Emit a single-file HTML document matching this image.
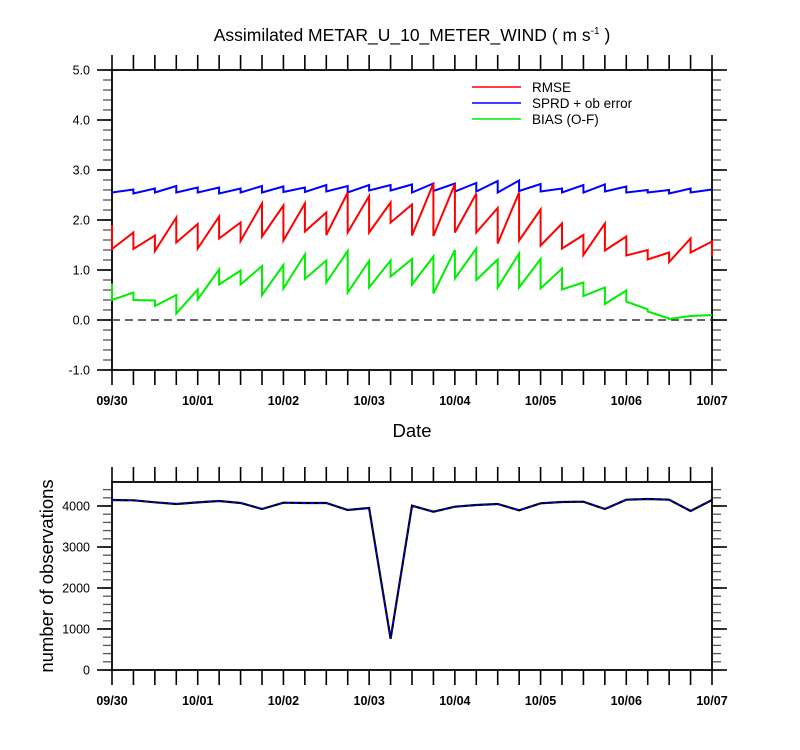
<!DOCTYPE html>
<html><head><meta charset="utf-8"><style>
html,body{margin:0;padding:0;background:#fff;width:800px;height:750px;overflow:hidden}
svg{display:block;font-family:"Liberation Sans",Arial,sans-serif}
</style></head><body>
<svg id="chart" width="800" height="750" viewBox="0 0 800 750" xmlns="http://www.w3.org/2000/svg">
<text x="412" y="41" font-size="17.5" text-anchor="middle">Assimilated METAR_U_10_METER_WIND ( m s<tspan font-size="10" dy="-7">-1</tspan><tspan dy="7"> )</tspan></text>
<g id="topPanel"></g>
<g id="botPanel"></g>
<text x="412" y="437" font-size="18.5" text-anchor="middle">Date</text>
<text transform="translate(53,576) rotate(-90)" font-size="18.5" text-anchor="middle">number of observations</text>
</svg>
<script>
const dateLabels = ["09/30","10/01","10/02","10/03","10/04","10/05","10/06","10/07"];
const topYTicks = [-1,0,1,2,3,4,5];
const botYTicks = [0,1000,2000,3000,4000];
const rmsePrior = [1.9,1.75,1.69,2.05,1.92,2.07,1.95,2.33,2.29,2.33,2.15,2.55,2.48,2.35,2.31,2.73,2.72,2.53,2.24,2.55,2.21,1.93,1.70,1.93,1.67,1.40,1.35,1.63,1.57];
const rmsePost  = [1.42,1.42,1.38,1.55,1.43,1.63,1.58,1.67,1.59,1.77,1.70,1.75,1.75,1.95,1.69,1.68,1.75,1.75,1.53,1.59,1.49,1.43,1.30,1.39,1.29,1.21,1.16,1.35,1.27];
const sprdPrior = [2.57,2.61,2.63,2.68,2.65,2.65,2.63,2.68,2.67,2.65,2.70,2.68,2.70,2.70,2.71,2.73,2.73,2.74,2.78,2.79,2.72,2.63,2.70,2.71,2.67,2.60,2.60,2.63,2.61];
const sprdPost  = [2.55,2.53,2.55,2.55,2.55,2.53,2.55,2.55,2.56,2.56,2.57,2.55,2.59,2.59,2.55,2.58,2.57,2.57,2.55,2.58,2.57,2.55,2.55,2.57,2.55,2.55,2.53,2.55,2.61];
const biasPrior = [0.73,0.55,0.39,0.50,0.61,1.01,0.99,1.08,1.10,1.31,1.19,1.38,1.18,1.19,1.22,1.27,1.40,1.43,1.21,1.33,1.22,1.03,0.75,0.65,0.59,0.21,0.03,0.08,0.10];
const biasPost  = [0.40,0.40,0.28,0.13,0.41,0.71,0.71,0.50,0.63,0.82,0.75,0.55,0.65,0.87,0.71,0.53,0.83,0.80,0.65,0.65,0.63,0.61,0.48,0.32,0.37,0.17,0.02,0.08,0.10];
const obsCount  = [4146,4138,4090,4049,4089,4122,4073,3927,4081,4073,4073,3902,3951,760,4008,3862,3984,4024,4049,3894,4065,4098,4106,3927,4154,4171,4154,3878,4146];
const legendNames = ["RMSE","SPRD + ob error","BIAS (O-F)"];

(function(){
const NS="http://www.w3.org/2000/svg";
function mk(parent,tag,attrs,text){const e=document.createElementNS(NS,tag);for(const k in attrs)e.setAttribute(k,attrs[k]);if(text!==undefined)e.textContent=text;parent.appendChild(e);return e;}
const X0=112,X1=712,NT=28;
const xT=i=>X0+(X1-X0)*i/NT;
const yTop=v=>320-50*v;
const yBot=v=>670-0.041*v;

function frame(g,yTopPx,yBotPx,yTicks,yf,minorStep,lo,hi,fmt){
  for(let i=0;i<=NT;i++){
    const x=xT(i);
    const t1=mk(g,'line',{x1:x,y1:yTopPx-15,x2:x,y2:yTopPx,stroke:'#000','stroke-width':1.6});
    
    
    const t2=mk(g,'line',{x1:x,y1:yBotPx,x2:x,y2:yBotPx+15,stroke:'#000','stroke-width':1.6});
    
    
  }
  dateLabels.forEach((d,k)=>{
    const t=mk(g,'text',{x:xT(k*4),y:yBotPx+35,'font-size':12.5,'font-weight':'bold','text-anchor':'middle'},d);
    
    
  });
  for(let v=lo;v<=hi+1e-9;v+=minorStep){
    const y=yf(v);
    mk(g,'line',{x1:X0-9,y1:y,x2:X0,y2:y,stroke:'#555','stroke-width':1.3});
    mk(g,'line',{x1:X1,y1:y,x2:X1+9,y2:y,stroke:'#555','stroke-width':1.3});
  }
  yTicks.forEach(v=>{
    const y=yf(v);
    mk(g,'line',{x1:X0-15,y1:y,x2:X0,y2:y,stroke:'#000','stroke-width':1.6});
    mk(g,'line',{x1:X1,y1:y,x2:X1+15,y2:y,stroke:'#000','stroke-width':1.6});
    const t=mk(g,'text',{x:X0-22,y:y+4.5,'font-size':12.5,'text-anchor':'end'},fmt(v));
    
    
  });
  const r=mk(g,'rect',{x:X0,y:yTopPx,width:X1-X0,height:yBotPx-yTopPx,fill:'none',stroke:'#000','stroke-width':1.8});
  
  
}

const topG=document.getElementById('topPanel');
frame(topG,70,370,topYTicks,yTop,0.2,-1,5,v=>v.toFixed(1));
const zl=mk(topG,'line',{x1:X0,y1:yTop(0),x2:X1,y2:yTop(0),stroke:'#333','stroke-width':1.6,'stroke-dasharray':'8,5'});



function saw(prior,post,color,name){
  let d='';
  for(let i=0;i<prior.length;i++){
    const x=xT(i);
    d+=(i===0?'M':'L')+x.toFixed(1)+','+yTop(prior[i]).toFixed(1)+'L'+x.toFixed(1)+','+yTop(post[i]).toFixed(1);
  }
  const p=mk(topG,'path',{d:d,fill:'none',stroke:color,'stroke-width':2});
  
  
}
saw(sprdPrior,sprdPost,'#0000ff','sprd-line');
saw(rmsePrior,rmsePost,'#ff0000','rmse-line');
saw(biasPrior,biasPost,'#00ee00','bias-line');

const legColors=['#ff0000','#0000ff','#00ee00'];
legendNames.forEach((n,k)=>{
  const y=87+16*k;
  const l=mk(topG,'line',{x1:472,y1:y,x2:521,y2:y,stroke:legColors[k],'stroke-width':1.6});
  
  
  const t=mk(topG,'text',{x:532,y:y+5,'font-size':13.5},n);
  
  
});

const botG=document.getElementById('botPanel');
frame(botG,482,670,botYTicks,yBot,200,0,4400,v=>String(v));
let d2='';
obsCount.forEach((v,i)=>{d2+=(i===0?'M':'L')+xT(i).toFixed(1)+','+yBot(v).toFixed(1);});
const ol=mk(botG,'path',{d:d2,fill:'none',stroke:'#000','stroke-width':2.2});


const ol2=mk(botG,'path',{d:d2,fill:'none',stroke:'#0000ff','stroke-width':1.4,'stroke-dasharray':'4,4'});


})();
</script>
</body></html>
